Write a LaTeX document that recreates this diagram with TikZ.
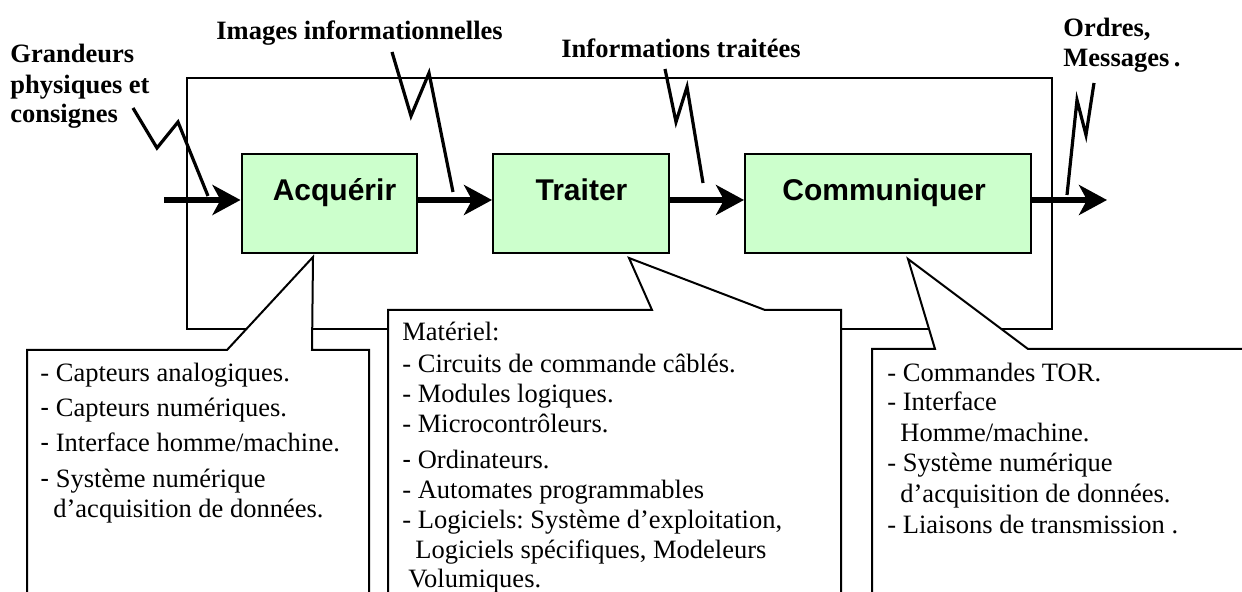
\documentclass[tikz,border=0pt]{standalone}
\usepackage{fontspec}
\setmainfont{Liberation Serif}
\newfontfamily\arialf{Liberation Sans}
\usetikzlibrary{arrows.meta}
\definecolor{boxgreen}{RGB}{204,255,204}
\newcommand{\sdash}{{\arialf -}}
\frenchspacing
\begin{document}
\begin{tikzpicture}[x=0.5pt,y=-0.5pt,
  frameline/.style={draw=black,line width=1pt,inner sep=0pt},
  callout/.style={draw=black,fill=white,line width=1pt,line join=miter},
  gbox/.style={draw=black,fill=boxgreen,line width=1pt,inner sep=0pt,minimum height=49.5pt},
  bigarrow/.style={line width=2.6pt,-{Stealth[length=14pt,width=15pt,inset=4pt]}},
  zig/.style={line width=1.6pt,line join=miter,line cap=butt},
  lbl/.style={inner sep=0pt,anchor=base west,font=\fontsize{13.25}{15}\selectfont\bfseries},
  body/.style={inner sep=0pt,anchor=base west,font=\fontsize{13.25}{15}\selectfont},
  boxtxt/.style={inner sep=0pt,anchor=base,font=\arialf\bfseries\fontsize{15}{18}\selectfont}]
\useasboundingbox (0,0) rectangle (1242,592);

% outer frame
\node[frameline,minimum width=432.5pt,minimum height=125.5pt] (outer) at (619.5,203.5) {};

% callouts
\filldraw[callout] (27,593) -- (27,350) -- (227,350) -- (313,257) -- (312,350) -- (369,350) -- (369,593);
\filldraw[callout] (388,593) -- (388,310) -- (652,310) -- (629,258) -- (765,310) -- (841,310) -- (841,593);
\filldraw[callout] (872,593) -- (872,349) -- (935,349) -- (908,259) -- (1028,349) -- (1247,349) -- (1247,593);

% function boxes
\node[gbox,minimum width=87.5pt] (acq) at (329,203.5) {};
\node[gbox,minimum width=88pt] (trt) at (581,203.5) {};
\node[gbox,minimum width=143pt] (com) at (888,203.5) {};
\node[boxtxt] (acqt) at (334.5,201) {Acquérir};
\node[boxtxt] (trtt) at (581.5,201) {Traiter};
\node[boxtxt] (comt) at (884,201) {Communiquer};

% main flow arrows
\coordinate (in) at (164,200);
\coordinate (out) at (1107,200);
\draw[bigarrow] (in) -- (in -| acq.west);
\draw[bigarrow] (acq.east |- in) -- (trt.west |- in);
\draw[bigarrow] (trt.east |- in) -- (com.west |- in);
\draw[bigarrow] (com.east |- in) -- (out);

% zigzag signal lines
\draw[zig] (133,108) -- (157,148) -- (178,122) -- (208,196);
\draw[zig] (392,52) -- (411,116) -- (429,73) -- (453,192);
\draw[zig] (665,69) -- (676,122) -- (687,87) -- (703,183);
\draw[zig] (1094,83) -- (1086,135) -- (1077,100) -- (1067,195);

% flow labels
\node[lbl] (g1) at (10,63) {Grandeurs};
\node[lbl] (g2) at (10,94) {physiques et};
\node[lbl] (g3) at (10,123) {consignes};
\node[lbl] (im) at (216,40) {Images informationnelles};
\node[lbl] (it) at (561,58) {Informations traitées};
\node[lbl] (or) at (1063,37) {Ordres,};
\node[lbl] (me) at (1063,67) {Messages\,.};

% callout 1 text
\node[body] (a1) at (40,382) {- Capteurs analogiques.};
\node[body] (a2) at (40,417) {\sdash{} Capteurs numériques.};
\node[body] (a3) at (40,452) {\sdash{} Interface homme/machine.};
\node[body] (a4) at (40,488) {\sdash{} Système numérique};
\node[body] (a5) at (53,518) {d’acquisition de données.};

% callout 2 text
\node[body] (b0) at (402,341) {Matériel:};
\node[body] (b1) at (402,373) {- Circuits de commande câblés.};
\node[body] (b2) at (402,403) {- Modules logiques.};
\node[body] (b3) at (402,433) {- Microcontrôleurs.};
\node[body] (b4) at (402,469) {\sdash{} Ordinateurs.};
\node[body] (b5) at (402,499) {- Automates programmables};
\node[body] (b6) at (402,529) {- Logiciels: Système d’exploitation,};
\node[body] (b7) at (415,559) {Logiciels spécifiques, Modeleurs};
\node[body] (b8) at (408,588) {Volumiques.};

% callout 3 text
\node[body] (c1) at (887,382) {- Commandes TOR.};
\node[body] (c2) at (887,411) {- Interface};
\node[body] (c3) at (900,442) {Homme/machine.};
\node[body] (c4) at (887,472) {- Système numérique};
\node[body] (c5) at (900,503) {d’acquisition de données.};
\node[body] (c6) at (887,534) {- Liaisons de transmission .};
\end{tikzpicture}
\end{document}
